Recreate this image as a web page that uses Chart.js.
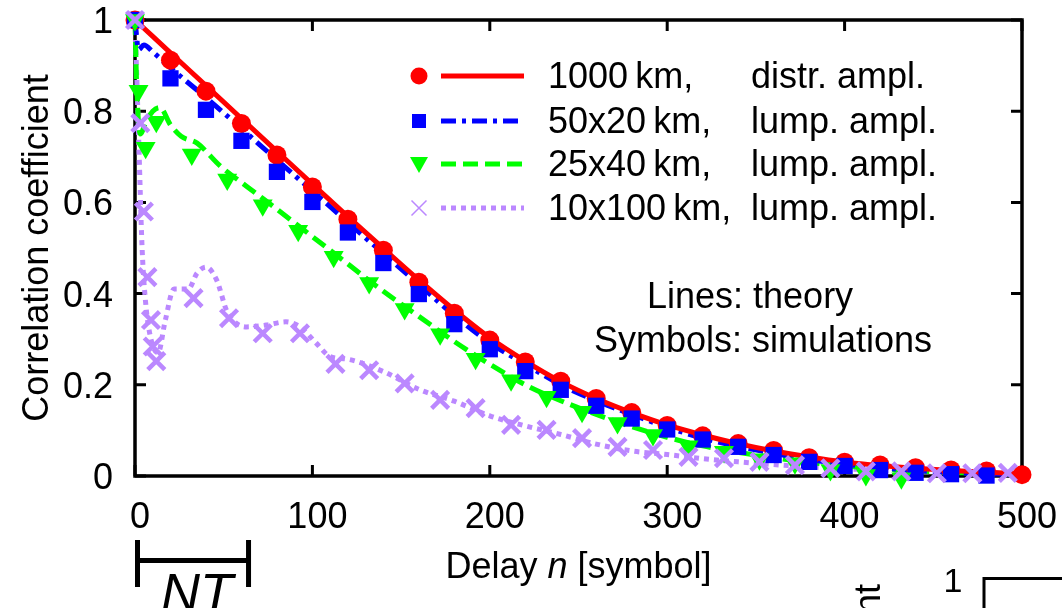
<!DOCTYPE html>
<html>
<head>
  <meta charset="utf-8" />
  <title>Correlation coefficient vs delay</title>
  <script src="https://cdn.jsdelivr.net/npm/chart.js"></script>
  <style>
    body { margin: 0; background: #fff; }
    #wrap { width: 1062px; height: 608px; position: relative; }
  </style>
</head>
<body>
  <div id="wrap"><canvas id="corrChart"></canvas></div>
  <script>
    // simulations (symbols)
    const redSimX = [0, 20, 40, 60, 80, 100, 120, 140, 160, 180, 200, 220, 240, 260, 280, 300, 320, 340, 360, 380, 400, 420, 440, 460, 480, 500];
    const redSimY = [1.0, 0.912, 0.844, 0.773, 0.704, 0.634, 0.563, 0.495, 0.425, 0.357, 0.298, 0.25, 0.208, 0.17, 0.139, 0.111, 0.088, 0.071, 0.056, 0.04, 0.03, 0.024, 0.018, 0.013, 0.011, 0.003];
    const blueSimX = [0, 20, 40, 60, 80, 100, 120, 140, 160, 180, 200, 220, 240, 260, 280, 300, 320, 340, 360, 380, 400, 420, 440, 460, 480];
    const blueSimY = [1.0, 0.872, 0.803, 0.735, 0.667, 0.601, 0.534, 0.467, 0.399, 0.333, 0.278, 0.23, 0.189, 0.154, 0.126, 0.102, 0.08, 0.064, 0.046, 0.031, 0.022, 0.013, 0.007, 0.004, 0.001];
    const greenSimX = [0, 2, 6, 12, 32, 52, 72, 92, 112, 132, 152, 172, 192, 212, 232, 252, 272, 292, 312, 332, 352, 372, 392, 412, 432];
    const greenSimY = [1.0, 0.845, 0.72, 0.777, 0.705, 0.65, 0.594, 0.538, 0.481, 0.423, 0.366, 0.311, 0.257, 0.21, 0.174, 0.141, 0.116, 0.09, 0.065, 0.053, 0.037, 0.028, 0.013, 0.002, -0.005];
    const purpleSimX = [0, 3, 5, 7, 9, 10, 12, 33, 53, 72, 93, 113, 132, 152, 172, 192, 212, 232, 252, 272, 292, 312, 332, 352, 372, 392, 412, 432, 452, 472, 492];
    const purpleSimY = [1.0, 0.774, 0.58, 0.436, 0.342, 0.284, 0.252, 0.39, 0.346, 0.313, 0.313, 0.246, 0.232, 0.203, 0.167, 0.149, 0.112, 0.101, 0.083, 0.064, 0.057, 0.042, 0.039, 0.031, 0.024, 0.017, 0.01, 0.01, 0.006, 0.006, 0.007];

    // theory (lines)
    const redThX = [0, 20, 40, 60, 80, 100, 120, 140, 160, 180, 200, 220, 240, 260, 280, 300, 320, 340, 360, 380, 400, 420, 440, 460, 480, 500];
    const redThY = [1.0, 0.928, 0.856, 0.784, 0.712, 0.64, 0.569, 0.499, 0.43, 0.364, 0.303, 0.252, 0.207, 0.17, 0.139, 0.112, 0.09, 0.071, 0.055, 0.042, 0.031, 0.023, 0.017, 0.012, 0.008, 0.005];
    const blueThX = [0, 2, 5, 10, 20, 40, 60, 80, 100, 120, 140, 160, 180, 200, 220, 240, 260, 280, 300, 320, 340, 360, 380, 400, 420, 440, 460, 480, 500];
    const blueThY = [1.0, 0.935, 0.945, 0.93, 0.895, 0.83, 0.762, 0.693, 0.625, 0.556, 0.488, 0.42, 0.352, 0.292, 0.245, 0.2, 0.165, 0.135, 0.107, 0.083, 0.065, 0.05, 0.036, 0.026, 0.018, 0.012, 0.008, 0.005, 0.003];
    const greenThX = [0, 1, 3, 6, 10, 14, 20, 26, 35, 48, 63, 80, 100, 120, 140, 160, 180, 200, 220, 240, 260, 280, 300, 320, 340, 360, 380, 400, 420, 440, 460, 480, 500];
    const greenThY = [1.0, 0.85, 0.75, 0.775, 0.8, 0.808, 0.77, 0.745, 0.73, 0.68, 0.635, 0.585, 0.525, 0.465, 0.405, 0.35, 0.295, 0.245, 0.2, 0.165, 0.135, 0.108, 0.085, 0.066, 0.052, 0.04, 0.03, 0.022, 0.016, 0.011, 0.008, 0.005, 0.003];
    const purpleThX = [0, 2, 4, 6, 9, 13, 17, 22, 30, 35, 40, 46, 52, 63, 74, 85, 93, 102, 110, 120, 140, 160, 180, 200, 220, 240, 260, 280, 300, 320, 340, 360, 380, 400, 420, 440, 460, 480, 500];
    const purpleThY = [1.0, 0.75, 0.5, 0.38, 0.3, 0.27, 0.34, 0.41, 0.41, 0.445, 0.458, 0.43, 0.36, 0.327, 0.331, 0.338, 0.327, 0.292, 0.262, 0.256, 0.229, 0.19, 0.164, 0.132, 0.11, 0.091, 0.07, 0.055, 0.047, 0.038, 0.031, 0.025, 0.02, 0.016, 0.012, 0.01, 0.008, 0.007, 0.006];

    const RED = '#ff0000', BLUE = '#0000ff', GREEN = '#00ff00', PURPLE = '#bb88ff';
    const FONT = '"Liberation Sans", Arial, sans-serif';

    const legendRows = [
      { color: RED, marker: 'circle', dash: [], left: '1000\u2009km,', right: 'distr. ampl.' },
      { color: BLUE, marker: 'square', dash: [15, 6, 4, 6], left: '50x20\u2009km,', right: 'lump. ampl.' },
      { color: GREEN, marker: 'triangle', dash: [15, 7], left: '25x40\u2009km,', right: 'lump. ampl.' },
      { color: PURPLE, marker: 'x', dash: [5, 5], left: '10x100\u2009km,', right: 'lump. ampl.' }
    ];

    const zip = (xs, ys) => xs.map((v, i) => ({ x: v, y: ys[i] }));

    function theory(xs, ys, color, dash, order) {
      return {
        type: 'line', data: zip(xs, ys), borderColor: color, borderWidth: 5,
        borderDash: dash, borderCapStyle: 'butt', pointRadius: 0, fill: false,
        cubicInterpolationMode: 'monotone', clip: false, order: order
      };
    }
    function sims(xs, ys, color, style, radius, order, extra) {
      return Object.assign({
        type: 'scatter', data: zip(xs, ys), showLine: false, pointStyle: style,
        pointRadius: radius, backgroundColor: color, borderColor: color,
        pointBorderWidth: 0, clip: false, order: order
      }, extra || {});
    }

    function drawMarker(ctx, kind, x, y, color) {
      ctx.fillStyle = color; ctx.strokeStyle = color;
      ctx.beginPath();
      if (kind === 'circle') { ctx.arc(x, y, 8.5, 0, Math.PI * 2); ctx.fill(); }
      else if (kind === 'square') { ctx.fillRect(x - 7, y - 7, 14, 14); }
      else if (kind === 'triangle') {
        ctx.moveTo(x - 9, y - 7); ctx.lineTo(x + 9, y - 7); ctx.lineTo(x, y + 9); ctx.closePath(); ctx.fill();
      } else {
        ctx.lineWidth = 1.5; ctx.setLineDash([]);
        ctx.moveTo(x - 7.5, y - 7.5); ctx.lineTo(x + 7.5, y + 7.5);
        ctx.moveTo(x + 7.5, y - 7.5); ctx.lineTo(x - 7.5, y + 7.5); ctx.stroke();
      }
    }

    const frame = {
      id: 'frame',
      beforeDatasetsDraw(chart) {
        const { ctx, chartArea: a, scales: { x, y } } = chart;
        ctx.save();
        ctx.strokeStyle = '#000';
        ctx.lineWidth = 3.5;
        ctx.strokeRect(a.left, a.top, a.right - a.left, a.bottom - a.top);
        ctx.lineWidth = 3;
        ctx.beginPath();
        x.ticks.forEach(t => {
          const px = x.getPixelForValue(t.value);
          ctx.moveTo(px, a.bottom); ctx.lineTo(px, a.bottom - 11);
          ctx.moveTo(px, a.top); ctx.lineTo(px, a.top + 11);
        });
        y.ticks.forEach(t => {
          const py = y.getPixelForValue(t.value);
          ctx.moveTo(a.left, py); ctx.lineTo(a.left + 11, py);
          ctx.moveTo(a.right, py); ctx.lineTo(a.right - 11, py);
        });
        ctx.stroke();
        ctx.restore();
      },
      afterDraw(chart) {
        const { ctx, chartArea: a, scales: { x, y } } = chart;
        ctx.save();
        // legend
        ctx.textBaseline = 'middle';
        ctx.font = '36px ' + FONT;
        const rowY = [76, 121, 164, 208];
        legendRows.forEach((r, i) => {
          const ry = rowY[i];
          drawMarker(ctx, r.marker, 419, ry, r.color);
          ctx.strokeStyle = r.color; ctx.lineWidth = 5; ctx.lineCap = 'butt';
          ctx.setLineDash(r.dash);
          ctx.beginPath(); ctx.moveTo(441, ry); ctx.lineTo(524, ry); ctx.stroke();
          ctx.setLineDash([]);
          ctx.fillStyle = '#000';
          ctx.fillText(r.left, 548, ry + 2);
          ctx.fillText(r.right, 751, ry + 2);
        });
        ctx.fillText('Lines: theory', 647, 298);
        ctx.fillText('Symbols: simulations', 594, 342);

        // x axis title with italic n
        ctx.textBaseline = 'alphabetic';
        const p1 = 'Delay ', p2 = 'n', p3 = ' [symbol]';
        ctx.font = '36px ' + FONT;
        const w1 = ctx.measureText(p1).width, w3 = ctx.measureText(p3).width;
        ctx.font = 'italic 36px ' + FONT;
        const w2 = ctx.measureText(p2).width;
        let tx = (a.left + a.right) / 2 - (w1 + w2 + w3) / 2;
        const ty = 578;
        ctx.font = '36px ' + FONT; ctx.fillText(p1, tx, ty); tx += w1;
        ctx.font = 'italic 36px ' + FONT; ctx.fillText(p2, tx, ty); tx += w2;
        ctx.font = '36px ' + FONT; ctx.fillText(p3, tx, ty);

        // NT bar
        const nx0 = x.getPixelForValue(0) + 2.5, nx1 = x.getPixelForValue(64);
        ctx.strokeStyle = '#000'; ctx.lineWidth = 5;
        ctx.beginPath();
        ctx.moveTo(nx0, 540); ctx.lineTo(nx0, 587);
        ctx.moveTo(nx1, 540); ctx.lineTo(nx1, 587);
        ctx.moveTo(nx0, 560.5); ctx.lineTo(nx1, 560.5);
        ctx.stroke();
        ctx.font = 'italic 54px ' + FONT;
        ctx.fillText('NT', 161, 611);

        // neighbouring panel fragment
        ctx.font = '34px ' + FONT;
        ctx.textAlign = 'center';
        ctx.fillText('1', 953, 592);
        ctx.lineWidth = 3;
        ctx.beginPath(); ctx.moveTo(984, 620); ctx.lineTo(984, 578.5); ctx.lineTo(1070, 578.5); ctx.stroke();
        ctx.translate(880, 584);
        ctx.rotate(-Math.PI / 2);
        ctx.textAlign = 'right';
        ctx.font = '36px ' + FONT;
        ctx.fillText('Correlation coefficient', 0, 0);
        ctx.restore();
      }
    };

    const datasets = [
      sims(purpleSimX, purpleSimY, PURPLE, 'crossRot', 12, 1, { pointBorderWidth: 4.5 }),
      sims(greenSimX, greenSimY, GREEN, 'triangle', 11.5, 2, { pointRotation: 180 }),
      sims(blueSimX, blueSimY, BLUE, 'rect', 11.5, 3),
      sims(redSimX, redSimY, RED, 'circle', 9.5, 4),
      theory(redThX, redThY, RED, [], 5),
      theory(blueThX, blueThY, BLUE, [15, 6, 4, 6], 6),
      theory(greenThX, greenThY, GREEN, [15, 7], 7),
      theory(purpleThX, purpleThY, PURPLE, [5, 5], 8)
    ];

    new Chart(document.getElementById('corrChart'), {
      type: 'scatter',
      data: { datasets: datasets },
      options: {
        responsive: true,
        maintainAspectRatio: false,
        animation: false,
        devicePixelRatio: 1,
        layout: { padding: { left: 14, right: 40, top: 20, bottom: 72 } },
        plugins: { legend: { display: false }, tooltip: { enabled: false } },
        scales: {
          x: {
            type: 'linear', min: 0, max: 500,
            grid: { display: false, drawTicks: false },
            border: { display: false },
            ticks: { stepSize: 100, padding: 20, labelOffset: 5, color: '#000', font: { family: FONT, size: 36 }, maxRotation: 0 },
            afterFit: s => { s.height = 60; s.paddingLeft = 0; s.paddingRight = 0; }
          },
          y: {
            min: 0, max: 1,
            grid: { display: false, drawTicks: false },
            border: { display: false },
            ticks: {
              stepSize: 0.2, padding: 22, labelOffset: 3, color: '#000', font: { family: FONT, size: 36 },
              callback: v => String(parseFloat(v.toFixed(1)))
            },
            title: { display: true, text: 'Correlation coefficient', color: '#000', font: { family: FONT, size: 36 }, padding: { top: 2, bottom: 4 } },
            afterFit: s => { s.width = 121; s.paddingTop = 0; s.paddingBottom = 0; }
          }
        }
      },
      plugins: [frame]
    });
  </script>
</body>
</html>
